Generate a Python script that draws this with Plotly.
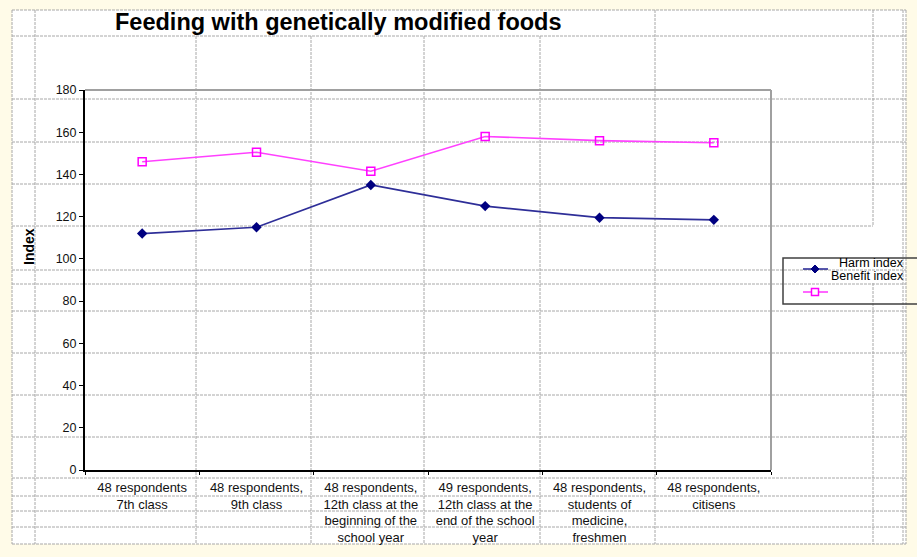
import plotly.graph_objects as go

# Survey groups and the two indices measured for each
groups = [
    "48 respondents<br>7th class",
    "48 respondents,<br>9th class",
    "48 respondents,<br>12th class at the<br>beginning of the<br>school year",
    "49 respondents,<br>12th class at the<br>end of the school<br>year",
    "48 respondents,<br>students of<br>medicine,<br>freshmen",
    "48 respondents,<br>citisens",
]
harm_index = [112, 115, 135, 125, 119.5, 118.5]
benefit_index = [146, 150.5, 141.5, 158, 156, 155]
series_names = ["Harm index", "Benefit index"]
y_ticks = [0, 20, 40, 60, 80, 100, 120, 140, 160, 180]

W, H = 917, 557
FONT = "Liberation Sans, Arial, sans-serif"


def px(x):
    return x / W


def py(y):
    return 1 - y / H


fig = go.Figure()
fig.add_trace(go.Scatter(
    x=groups, y=harm_index, name=series_names[0], mode="lines+markers",
    line=dict(color="#2E2E98", width=1.7),
    marker=dict(symbol="diamond", size=8, color="#000080"),
    showlegend=False,
))
fig.add_trace(go.Scatter(
    x=groups, y=benefit_index, name=series_names[1], mode="lines+markers",
    line=dict(color="#FF40FF", width=1.6),
    marker=dict(symbol="square-open", size=8, color="#FF00FF", line=dict(width=1.5)),
    showlegend=False,
))

shapes = []
# worksheet background
shapes.append(dict(type="rect", xref="paper", yref="paper", layer="below",
                   x0=px(12), x1=px(906), y0=py(544), y1=py(10),
                   fillcolor="white", line=dict(width=0)))

grid = dict(color="#A8A8A8", width=1, dash="3px,1px")
rows = [10, 36, 99, 142, 184, 226, 270, 284, 311, 353, 395, 437, 478, 496, 511, 527, 544]
cols = [12, 35, 196, 311, 424, 540, 655, 873, 903, 906]
for r in rows:
    x_end = 873 if r == 226 else 906
    shapes.append(dict(type="line", xref="paper", yref="paper", layer="below",
                       x0=px(12), x1=px(x_end), y0=py(r), y1=py(r), line=grid))
for c in cols:
    segs = [(10, 544)]
    if c in (196, 311, 424, 540):
        segs = [(36, 544)]
    if c == 873:
        segs = [(10, 226), (283, 544)]
    for a, b in segs:
        shapes.append(dict(type="line", xref="paper", yref="paper", layer="below",
                           x0=px(c), x1=px(c), y0=py(a), y1=py(b), line=grid))

# plot frame (top and right)
frame = dict(color="#A0A0A0", width=2)
shapes.append(dict(type="line", xref="paper", yref="paper",
                   x0=px(85), x1=px(771), y0=py(90), y1=py(90), line=frame))
shapes.append(dict(type="line", xref="paper", yref="paper",
                   x0=px(771), x1=px(771), y0=py(90), y1=py(470), line=frame))

# legend box and keys
shapes.append(dict(type="rect", xref="paper", yref="paper",
                   x0=px(783), x1=px(922), y0=py(304), y1=py(258),
                   line=dict(color="#404040", width=1.5)))
shapes.append(dict(type="line", xref="paper", yref="paper",
                   x0=px(803), x1=px(828), y0=py(269), y1=py(269),
                   line=dict(color="#2E2E98", width=1.6)))
shapes.append(dict(type="path", xref="paper", yref="paper",
                   path=f"M {px(815)} {py(265)} L {px(819)} {py(269)} L {px(815)} {py(273)} L {px(811)} {py(269)} Z",
                   fillcolor="#000080", line=dict(color="#000080", width=1)))
shapes.append(dict(type="line", xref="paper", yref="paper",
                   x0=px(803), x1=px(828), y0=py(292), y1=py(292),
                   line=dict(color="#FF40FF", width=1.6)))
shapes.append(dict(type="rect", xref="paper", yref="paper",
                   x0=px(811.5), x1=px(818.5), y0=py(295.5), y1=py(288.5),
                   fillcolor="white", line=dict(color="#FF00FF", width=1.5)))

annotations = [
    dict(text="<b>Feeding with genetically modified foods</b>", xref="paper", yref="paper",
         x=px(338), y=py(22), xanchor="center", yanchor="middle", showarrow=False,
         font=dict(family=FONT, size=23.5, color="black")),
    dict(text="<b>Index</b>", xref="paper", yref="paper", x=px(29), y=py(247),
         xanchor="center", yanchor="middle", textangle=-90, showarrow=False,
         font=dict(family=FONT, size=14, color="black")),
    dict(text=series_names[0], xref="paper", yref="paper", x=px(906), y=py(263),
         xanchor="right", yanchor="middle", showarrow=False,
         font=dict(family=FONT, size=12.5, color="black")),
    dict(text=series_names[1], xref="paper", yref="paper", x=px(906), y=py(276),
         xanchor="right", yanchor="middle", showarrow=False,
         font=dict(family=FONT, size=12.5, color="black")),
]

fig.update_layout(
    width=W, height=H,
    margin=dict(l=0, r=0, t=0, b=0, pad=0, autoexpand=False),
    paper_bgcolor="#FFFBE8",
    plot_bgcolor="rgba(0,0,0,0)",
    showlegend=False,
    font=dict(family=FONT, size=12.5, color="#111"),
    shapes=shapes,
    annotations=annotations,
    xaxis=dict(
        domain=[px(85), px(771)], type="category", range=[-0.5, 5.5],
        showline=True, linecolor="black", linewidth=2, automargin=False,
        ticks="outside", tickson="boundaries", ticklen=3, tickcolor="black",
        ticklabelstandoff=4,
        showgrid=False, zeroline=False, tickfont=dict(size=13),
    ),
    yaxis=dict(
        domain=[py(470), py(90)], range=[0, 180], tickvals=y_ticks,
        showline=True, linecolor="black", linewidth=2, automargin=False,
        ticks="outside", ticklen=4, tickcolor="black",
        showgrid=False, zeroline=False, tickfont=dict(size=12.5),
    ),
)

fig.write_html("out.html")
